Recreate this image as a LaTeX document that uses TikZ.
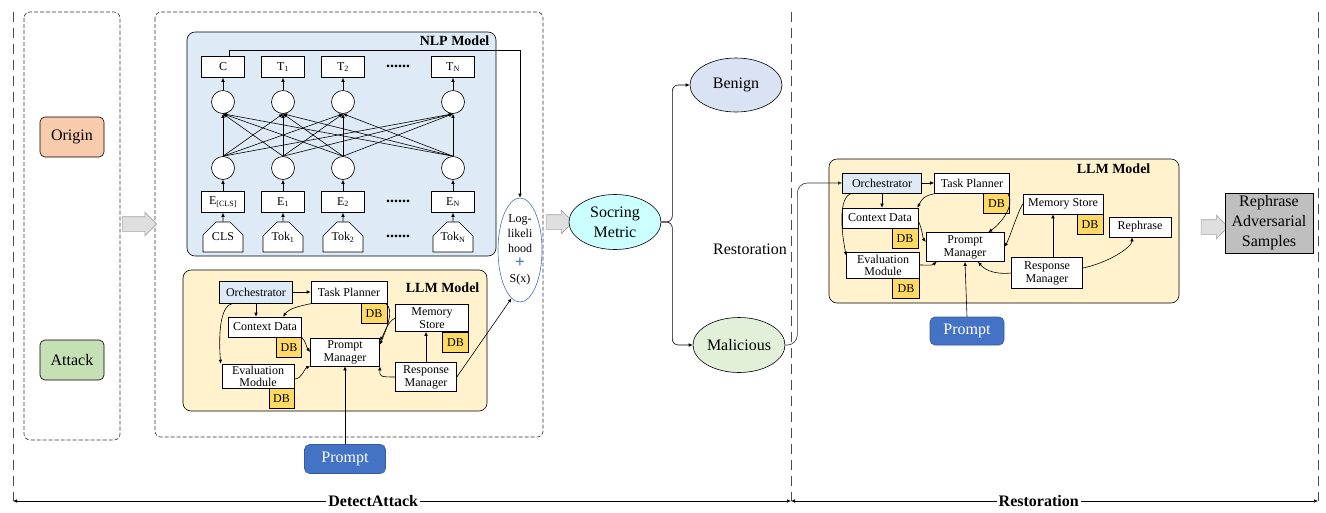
\documentclass[tikz,border=0pt]{standalone}
\usepackage{fontspec}
\setmainfont{Liberation Serif}
\usetikzlibrary{arrows.meta,shapes.geometric,shapes.misc,shapes.arrows}
\definecolor{origincol}{HTML}{F8CBAD}
\definecolor{attackcol}{HTML}{C5E0B4}
\definecolor{nlpblue}{HTML}{DEEBF7}
\definecolor{llmyellow}{HTML}{FFF2CC}
\definecolor{dbgold}{HTML}{FFD966}
\definecolor{promptblue}{HTML}{4472C4}
\definecolor{metriccol}{HTML}{CCFFFF}
\definecolor{benigncol}{HTML}{DAE3F3}
\definecolor{maliccol}{HTML}{E2F0D9}
\definecolor{graybox}{HTML}{BFBFBF}
\newcommand\bigtxt{\fontsize{16}{20}\selectfont}
\newcommand\smalltxt{\fontsize{12}{13}\selectfont}
\newcommand\titletxt{\fontsize{14}{16}\selectfont\bfseries}
\begin{document}
\begin{tikzpicture}[x=1pt,y=-1pt,line width=0.6pt,>={Latex[length=4pt,width=3.5pt]},
  dashbox/.style={draw=black!80,dash pattern=on 4pt off 2pt,rounded corners=6pt},
  guide/.style={draw=black!70,dash pattern=on 10pt off 6pt},
  panel/.style={draw,rounded corners=8pt},
  pill/.style={draw,rounded corners=5pt,minimum width=64pt,minimum height=40pt,font=\bigtxt},
  blockarrow/.style={single arrow,draw=gray!70,fill=gray!25,inner xsep=0pt,inner ysep=7pt,single arrow head extend=4.5pt},
  vec/.style={draw,fill=white,minimum width=43pt,minimum height=21pt,inner sep=0pt,font=\smalltxt},
  neuron/.style={circle,draw,fill=white,minimum size=23pt,inner sep=0pt},
  tok/.style={chamfered rectangle,chamfered rectangle corners={north west,north east},chamfered rectangle sep=9pt,draw,fill=white,minimum width=40pt,minimum height=30pt,inner sep=0pt,font=\smalltxt},
  gap/.style={font=\bigtxt\bfseries},
  box/.style={draw,fill=white,align=center,inner sep=0pt,font=\smalltxt},
  db/.style={draw,fill=dbgold,minimum width=26pt,minimum height=20pt,inner sep=0pt,anchor=north east,font=\smalltxt},
  prompt/.style={draw=promptblue!80!black,fill=promptblue,text=white,rounded corners=5pt,minimum height=29pt,font=\bigtxt},
  phase/.style={fill=white,inner sep=2pt,font=\bigtxt\bfseries}]
\useasboundingbox (0,0) rectangle (1326,512);

% stages
\draw[dashbox] (24,12) rectangle (120,440);
\draw[dashbox] (155,12) rectangle (543,437);
\draw[panel,fill=nlpblue] (187,32) rectangle (496,256);
\draw[panel,fill=llmyellow] (183,270) rectangle (487,411);
\draw[panel,fill=llmyellow] (829,159) rectangle (1179,303);

\coordinate (tl) at (13,12);
\coordinate (tm) at (791,12);
\coordinate (tr) at (1318,12);
\coordinate (dl) at (13,501);
\coordinate (dm) at (791,501);
\coordinate (dr) at (1318,501);
\draw[guide] (tl) -- (dl);
\draw[guide] (tm) -- (dm);
\draw[guide] (tr) -- (dr);
\draw[<->] (dl) -- node[phase,pos=0.463] (DetLbl) {DetectAttack} (dm);
\draw[<->] (dm) -- node[phase,pos=0.47] (ResLbl) {Restoration} (dr);

% inputs
\node[pill,fill=origincol] (Origin) at (72,137) {Origin};
\node[pill,fill=attackcol] (Attack) at (72,360) {Attack};
\node[blockarrow,minimum height=34pt] (Arr1) at (136,224) {};

% NLP model
\node[anchor=east,font=\titletxt] (NLPlbl) at (493,41) {NLP Model};
\node[vec] (C) at (223,67) {C};
\node[vec] (T1) at (283,67) {T\textsubscript{1}};
\node[vec] (T2) at (343,67) {T\textsubscript{2}};
\node[vec] (TN) at (453,67) {T\textsubscript{N}};
\node[gap] (D1) at (398,66) {......};
\node[neuron] (G0) at (223,102) {};
\node[neuron] (G1) at (283,102) {};
\node[neuron] (G2) at (343,102) {};
\node[neuron] (GN) at (453,102) {};
\node[neuron] (H0) at (223,168) {};
\node[neuron] (H1) at (283,168) {};
\node[neuron] (H2) at (343,168) {};
\node[neuron] (HN) at (453,168) {};
\node[vec] (E0) at (223,202) {E\textsubscript{[CLS]}};
\node[vec] (E1) at (283,202) {E\textsubscript{1}};
\node[vec] (E2) at (343,202) {E\textsubscript{2}};
\node[vec] (EN) at (453,202) {E\textsubscript{N}};
\node[gap] (D2) at (398,201) {......};
\node[tok] (K0) at (223,237) {CLS};
\node[tok] (K1) at (283,237) {Tok\textsubscript{1}};
\node[tok] (K2) at (343,237) {Tok\textsubscript{2}};
\node[tok] (KN) at (453,237) {Tok\textsubscript{N}};
\node[gap] (D3) at (398,236) {......};
\path[->]
  (K0) edge (E0)
  (K1) edge (E1)
  (K2) edge (E2)
  (KN) edge (EN)
  (E0) edge (H0)
  (E1) edge (H1)
  (E2) edge (H2)
  (EN) edge (HN)
  (H0.north) edge (G0.south)
  (H0.north) edge (G1.south)
  (H0.north) edge (G2.south)
  (H0.north) edge (GN.south)
  (H1.north) edge (G0.south)
  (H1.north) edge (G1.south)
  (H1.north) edge (G2.south)
  (H1.north) edge (GN.south)
  (H2.north) edge (G0.south)
  (H2.north) edge (G1.south)
  (H2.north) edge (G2.south)
  (H2.north) edge (GN.south)
  (HN.north) edge (G0.south)
  (HN.north) edge (G1.south)
  (HN.north) edge (G2.south)
  (HN.north) edge (GN.south)
  (G0) edge (C)
  (G1) edge (T1)
  (G2) edge (T2)
  (GN) edge (TN)
;

% score
\node[ellipse,draw=promptblue,fill=white,minimum width=44pt,minimum height=104pt,inner sep=0pt,align=center,font=\fontsize{12}{15}\selectfont] (LL) at (520,250) {Log-\\likeli\\hood\\{\fontsize{17}{15}\selectfont\color{promptblue}\bfseries +}\\S(x)};
\coordinate (Cturn) at (520,50);
\draw[->] ([xshift=6pt]C.north) |- (Cturn) -- (LL.north);

% LLM model (detect)
\node[anchor=east,font=\titletxt] (LLM1lbl) at (483,288) {LLM Model};
\node[box,fill=nlpblue,minimum width=73pt,minimum height=22pt] (Orch1) at (256,292) {Orchestrator};
\node[box,minimum width=76pt,minimum height=22pt] (Task1) at (349,292) {Task Planner};
\node[db] (DBt1) at (Task1.south east) {DB};
\node[box,minimum width=73pt,minimum height=20pt] (Ctx1) at (265,327) {Context Data};
\node[db,minimum width=25pt] (DBc1) at (Ctx1.south east) {DB};
\node[box,minimum width=73pt,minimum height=27pt] (Mem1) at (432,318) {Memory\\Store};
\node[db] (DBm1) at (Mem1.south east) {DB};
\node[box,minimum width=69pt,minimum height=28pt] (Prm1) at (345,352) {Prompt\\Manager};
\node[box,minimum width=72pt,minimum height=24pt,font=\fontsize{12}{12}\selectfont] (Eval1) at (258,376) {Evaluation\\Module};
\node[db,minimum width=25pt] (DBe1) at (Eval1.south east) {DB};
\node[box,minimum width=61pt,minimum height=29pt] (Resp1) at (426,377) {Response\\Manager};
\node[prompt,minimum width=81pt] (Pmt1) at (345,459) {Prompt};
\path[->]
  (Orch1) edge (Task1)
  (Orch1.south) edge (Orch1.south |- Ctx1.north)
  (Resp1.north) edge (Resp1.north |- Mem1.south)
  (Pmt1.north) edge (Prm1.south)
;
\draw[->] ([xshift=-23pt]Orch1.south) .. controls +(-14,2) and +(-2,-25) .. ([xshift=-1pt]Eval1.north west);
\draw[->] ([xshift=2pt]Task1.south west) .. controls +(-15,3) and +(6,-8) .. ([xshift=18pt]Ctx1.north);
\draw[->] ([xshift=-2pt]Task1.south east) .. controls +(10,6) and +(6,-14) .. ([yshift=-7pt]Prm1.north east);
\draw[->] (Mem1.west) .. controls +(-8,4) and +(5,-8) .. ([yshift=-3pt]Prm1.north east);
\draw[->] (Ctx1.south east) .. controls +(4,4) and +(-4,-5) .. (Prm1.west);
\draw[->] ([yshift=-3pt]Eval1.east) .. controls +(8,0) and +(-6,2) .. (Prm1.south west);
\draw[->] (Resp1.west) .. controls +(-16,0) and +(0,10) .. (Prm1.south east);
\draw[->] (Resp1.east) -- (LL.260);

% decision
\node[blockarrow,minimum height=27pt] (Arr2) at (556,222) {};
\node[ellipse,draw,fill=metriccol,minimum width=92pt,minimum height=55pt,inner sep=0pt,align=center,font=\bigtxt] (Metric) at (615,222) {Socring\\Metric};
\node[ellipse,draw,fill=benigncol,minimum width=92pt,minimum height=54pt,inner sep=0pt,font=\bigtxt] (Benign) at (736,85) {Benign};
\node[ellipse,draw,fill=maliccol,minimum width=92pt,minimum height=55pt,inner sep=0pt,font=\bigtxt] (Malicious) at (739,345) {Malicious};
\node[font=\bigtxt] (RestTxt) at (750,249) {Restoration};
\draw[->,rounded corners=6pt] (Metric.east) -- ++(11,0) |- (Benign.west);
\draw[->,rounded corners=6pt] (Metric.east) -- ++(11,0) |- (Malicious.west);

% LLM model (restore)
\node[anchor=east,font=\titletxt] (LLM2lbl) at (1154,169) {LLM Model};
\node[box,fill=nlpblue,minimum width=79pt,minimum height=20pt] (Orch2) at (882,183) {Orchestrator};
\node[box,minimum width=75pt,minimum height=20pt] (Task2) at (972,183) {Task Planner};
\node[db] (DBt2) at (Task2.south east) {DB};
\node[box,minimum width=76pt,minimum height=20pt] (Ctx2) at (880,218) {Context Data};
\node[db] (DBc2) at (Ctx2.south east) {DB};
\node[box,minimum width=73pt,minimum height=26pt,font=\fontsize{12}{12}\selectfont] (Eval2) at (883,265) {Evaluation\\Module};
\node[db,minimum width=27pt] (DBe2) at (Eval2.south east) {DB};
\node[box,minimum width=78pt,minimum height=29pt] (Prm2) at (965,247) {Prompt\\Manager};
\node[box,minimum width=80pt,minimum height=20pt] (Mem2) at (1063,204) {Memory Store};
\node[db] (DBm2) at (Mem2.south east) {DB};
\node[box,minimum width=62pt,minimum height=20pt] (Reph2) at (1140,227) {Rephrase};
\node[box,minimum width=71pt,minimum height=31pt] (Resp2) at (1047,273) {Response\\Manager};
\node[prompt,minimum width=74pt,minimum height=28pt] (Pmt2) at (967,331) {Prompt};
\draw[->,draw=black!80,rounded corners=10pt] (Malicious.east) -- ++(12,0) |- (Orch2.west);
\path[->]
  (Orch2) edge (Task2)
  (Orch2.south) edge (Orch2.south |- Ctx2.north)
  ([xshift=6pt]Resp2.north) edge ([xshift=6pt]Resp2.north |- Mem2.south)
  (Pmt2.north) edge (Prm2.south)
;
\draw[->] ([xshift=-30pt]Orch2.south) .. controls +(-14,3) and +(-5,-25) .. ([yshift=-4pt]Eval2.north west);
\draw[->] ([xshift=3pt]Task2.south west) .. controls +(-15,2) and +(4,-7) .. ([xshift=-1pt]Ctx2.north east);
\draw[->] ([xshift=-2pt]Task2.south east) .. controls +(8,12) and +(12,-8) .. ([xshift=-16pt]Prm2.north east);
\draw[->] (Mem2.west) .. controls +(-5,8) and +(5,-8) .. (Prm2.east);
\draw[->] ([yshift=-3pt]Ctx2.east) .. controls +(4,8) and +(-3,-4) .. ([yshift=5pt]Prm2.west);
\draw[->] (Eval2.east) .. controls +(8,0) and +(-5,4) .. ([xshift=11pt]Prm2.south west);
\draw[->] (Resp2.west) .. controls +(-20,2) and +(5,6) .. ([xshift=13pt]Prm2.south);
\draw[->] ([yshift=5pt]Resp2.east) .. controls +(25,-5) and +(0,10) .. ([xshift=-8pt]Reph2.south);

% output
\node[blockarrow,minimum height=27pt] (Arr3) at (1211,227) {};
\node[draw,fill=graybox,minimum width=88pt,minimum height=60pt,inner sep=1pt,align=center,font=\bigtxt] (RAS) at (1269,223) {Rephrase\\Adversarial\\Samples};
\end{tikzpicture}
\end{document}
